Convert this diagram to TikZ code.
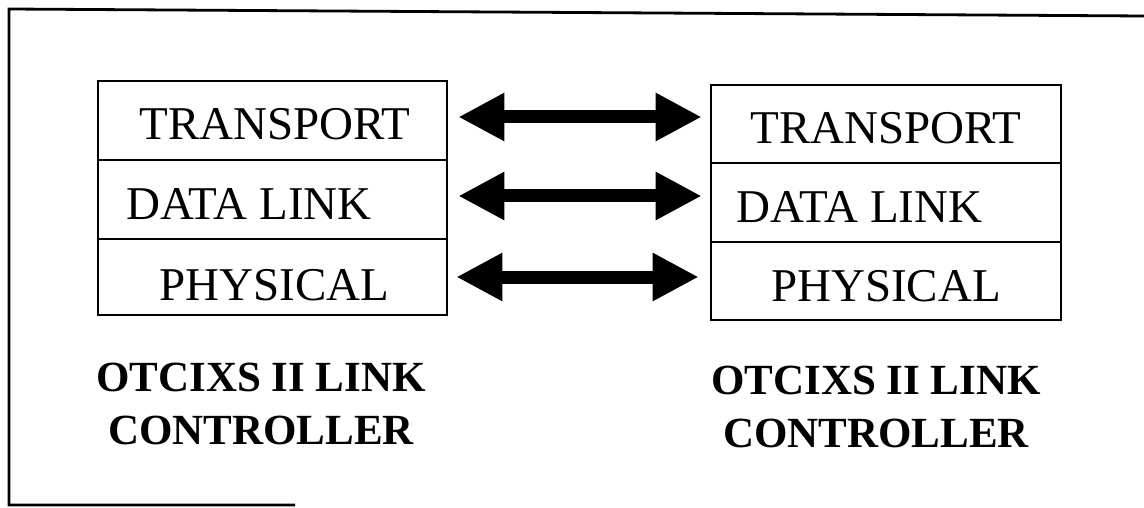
\documentclass[tikz,border=0pt]{standalone}
\usepackage{fontspec}
\setmainfont{Liberation Serif}
\usetikzlibrary{arrows.meta,calc}
\begin{document}
\begin{tikzpicture}[x=1pt,y=-1pt,
  layer/.style={draw,line width=2.6pt,inner sep=0pt,minimum width=349pt},
  layertext/.style={inner sep=0pt,font=\fontsize{47}{50}\selectfont},
  ctrltext/.style={inner sep=0pt,anchor=base,font=\fontsize{43}{50}\selectfont\bfseries},
  dbl/.style={line width=13pt,{Triangle[length=46pt,width=45pt]}-{Triangle[length=46pt,width=45pt]}}]
\useasboundingbox (0,0) rectangle (1144,508);
% outer frame (open on right and partly at bottom)
\draw[line width=2.8pt] (1144,16) -- (9,9) -- (9,505) -- (295,505);
% left stack
\node[layer,minimum height=79pt] (l1) at (272.5,120.5) {};
\node[layer,minimum height=79pt] (l2) at (272.5,199.5) {};
\node[layer,minimum height=76pt] (l3) at (272.5,277) {};
\node[layertext] (lt1) at ($(l1.center)+(2.5,4)$) {TRANSPORT};
\node[layertext] (lt2) at ($(l2.center)+(-23.5,5)$) {DATA LINK};
\node[layertext] (lt3) at ($(l3.center)+(2,8)$) {PHYSICAL};
% right stack
\node[layer,minimum width=350pt,minimum height=78pt] (r1) at (886,124) {};
\node[layer,minimum width=350pt,minimum height=79pt] (r2) at (886,202.5) {};
\node[layer,minimum width=350pt,minimum height=78pt] (r3) at (886,281) {};
\node[layertext] (rt1) at ($(r1.center)+(0,4.5)$) {TRANSPORT};
\node[layertext] (rt2) at ($(r2.center)+(-26.5,5)$) {DATA LINK};
\node[layertext] (rt3) at ($(r3.center)+(0,5)$) {PHYSICAL};
% double arrows
\draw[dbl] ($(l1.east)+(10,-3.5)$) -- ($(l1.east -| r1.west)+(-8,-3.5)$);
\draw[dbl] ($(l2.east)+(10,-3.5)$) -- ($(l2.east -| r2.west)+(-8,-3.5)$);
\draw[dbl] ($(l3.east)+(8,0)$) -- ($(l3.east -| r3.west)+(-11,0)$);
% controller labels
\node[ctrltext] (lc1) at (261,391) {OTCIXS II LINK};
\node[ctrltext] (lc2) at (261,444) {CONTROLLER};
\node[ctrltext] (rc1) at (876,394) {OTCIXS II LINK};
\node[ctrltext] (rc2) at (876,447) {CONTROLLER};
\end{tikzpicture}
\end{document}
